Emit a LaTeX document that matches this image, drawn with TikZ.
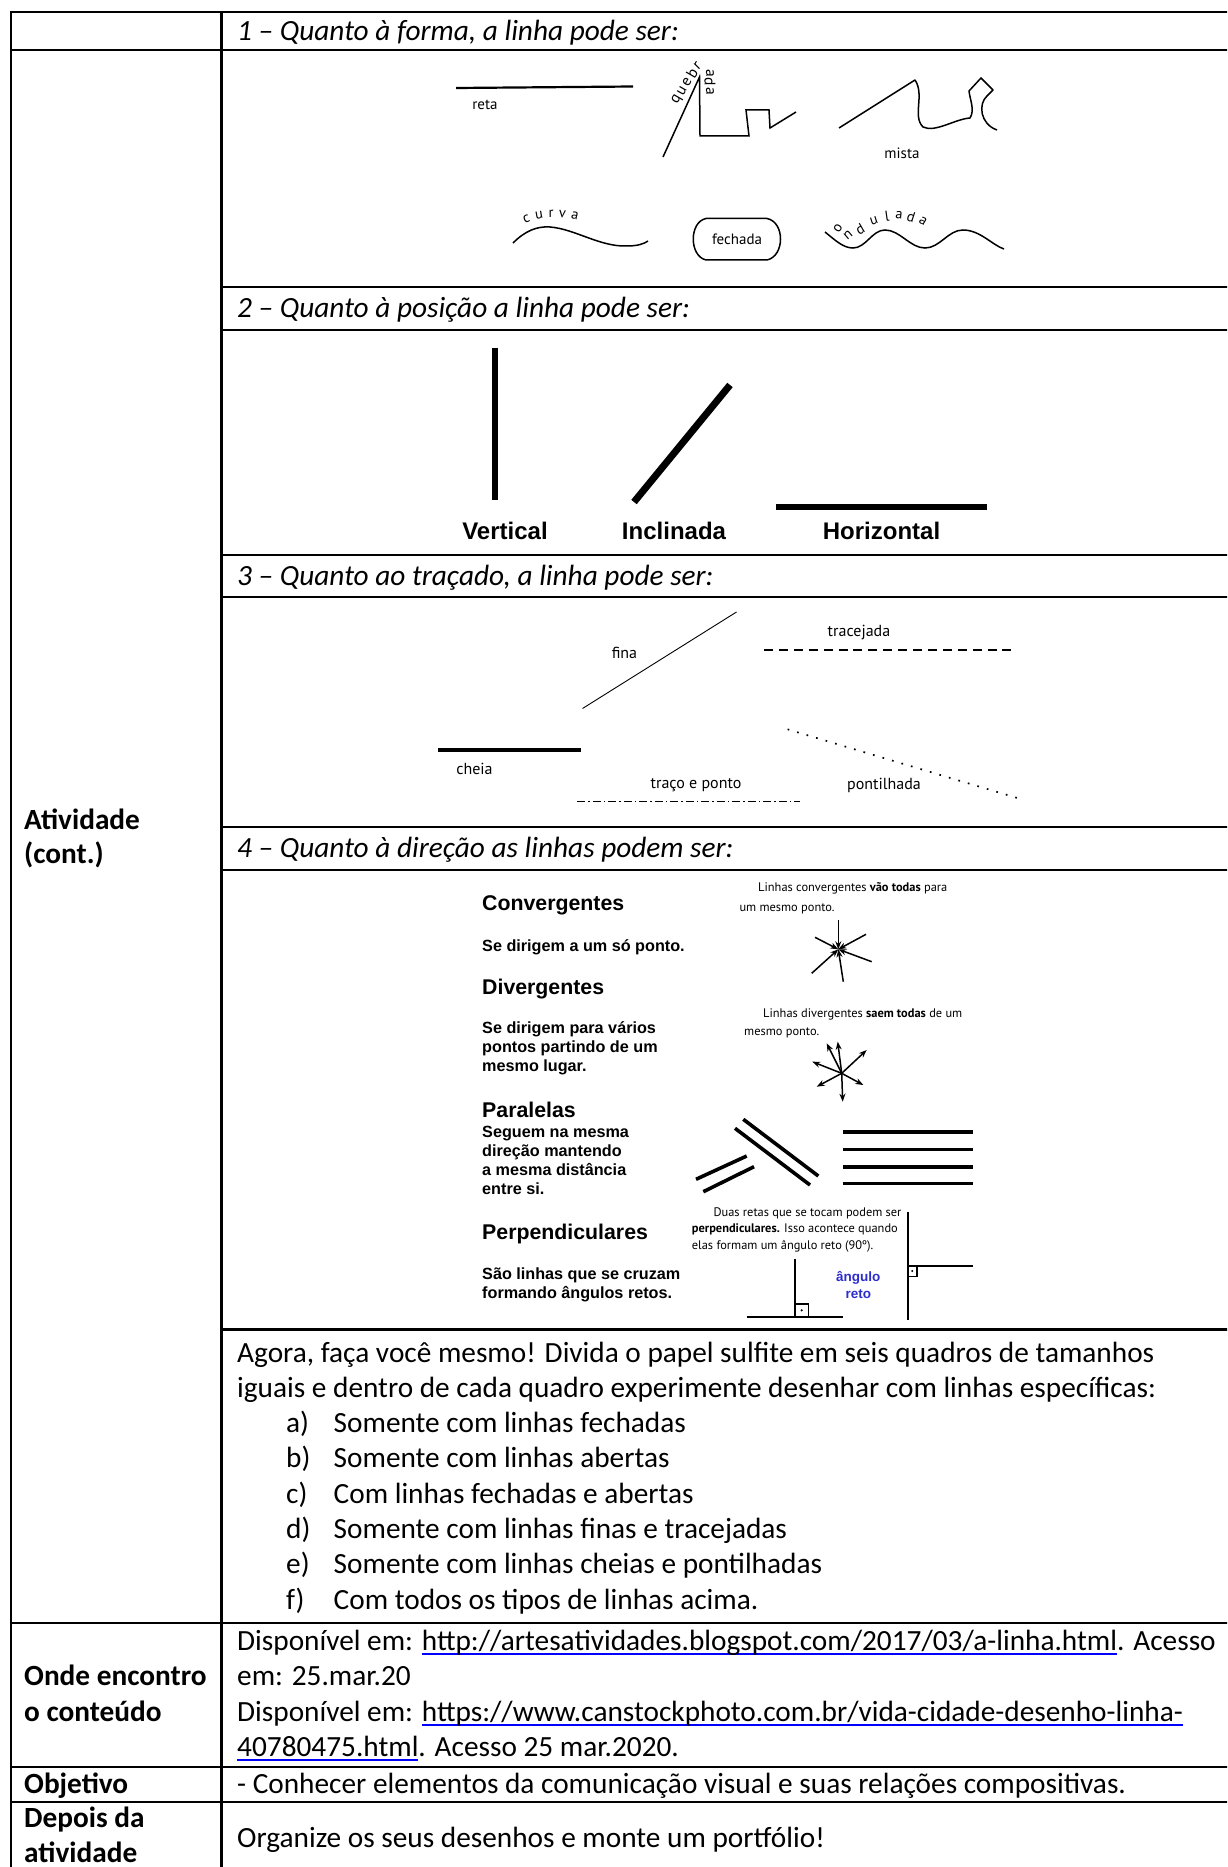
\documentclass[tikz,border=0pt]{standalone}
\usepackage{fontspec}
\setmainfont{Carlito}
\newfontfamily\arialf{Liberation Sans}
\newfontfamily\myriad{PT Sans}
\usetikzlibrary{arrows.meta}
\definecolor{linkblue}{RGB}{0,0,255}
\definecolor{angblue}{RGB}{45,45,205}
\newsavebox\lnkbox
\newcommand{\lnk}[1]{\sbox\lnkbox{#1}\textcolor{linkblue}{\rlap{\rule[-4.5pt]{\wd\lnkbox}{1.6pt}}\usebox\lnkbox}}
\begin{document}
\begin{tikzpicture}[x=1pt,y=-1pt,
  tbl/.style={line width=2.4pt},
  txt/.style={anchor=base west, inner sep=0pt, font=\fontsize{29.3}{35.3}\selectfont},
  txtb/.style={anchor=base west, inner sep=0pt, font=\fontsize{29.3}{35.3}\selectfont\bfseries},
  txti/.style={anchor=base west, inner sep=0pt, font=\fontsize{29.3}{35.3}\selectfont\itshape},
  lbl/.style={inner sep=0pt, font=\myriad\fontsize{15}{17}\selectfont},
  lblq/.style={inner sep=0pt, font=\myriad\fontsize{15.5}{17}\selectfont},
  lblt/.style={inner sep=0pt, font=\myriad\fontsize{16}{18}\selectfont},
  lblc/.style={inner sep=0pt, font=\myriad\fontsize{14.5}{16}\selectfont},
  poslbl/.style={anchor=base, inner sep=0pt, font=\arialf\bfseries\fontsize{24}{28}\selectfont},
  dirh/.style={anchor=base west, inner sep=0pt, font=\arialf\bfseries\fontsize{21.3}{24}\selectfont},
  dirt/.style={anchor=base west, inner sep=0pt, font=\arialf\bfseries\fontsize{16.2}{19}\selectfont},
  smtxt/.style={anchor=base west, inner sep=0pt, font=\myriad\fontsize{12.4}{14}\selectfont},
  angtxt/.style={inner sep=0pt, text=angblue, font=\arialf\bfseries\fontsize{13.5}{15}\selectfont},
  fineln/.style={line width=1.5pt, line join=miter},
  arr/.style={line width=1.5pt, -{Stealth[length=8pt,width=6pt]}},
  par/.style={line width=3.6pt},
  perp/.style={line width=2.2pt}
]
\useasboundingbox (0,0) rectangle (1227,1867);
\clip (0,0) rectangle (1227,1867);
\fill[white] (0,0) rectangle (1227,1867);

% ---------- table grid ----------
\draw[tbl] (10.7,12) -- (1240,12);
\draw[tbl] (10.7,50) -- (1240,50);
\foreach \yy in {287,330,555,597,827,870,1329.5}
  \draw[tbl] (221.5,\yy) -- (1240,\yy);
\foreach \yy in {1623,1767,1802}
  \draw[tbl] (10.7,\yy) -- (1240,\yy);
\draw[tbl] (10.7,10.8) -- (10.7,1880);
\draw[tbl] (221.5,10.8) -- (221.5,1880);

% ---------- headers ----------
\node[txti] (h1) at (237,41) {1 – Quanto à forma, a linha pode ser:};
\node[txti] (h2) at (237,317) {2 – Quanto à posição a linha pode ser:};
\node[txti] (h3) at (237,585) {3 – Quanto ao traçado, a linha pode ser:};
\node[txti] (h4) at (237,857) {4 – Quanto à direção as linhas podem ser:};

% ---------- left column ----------
\node[txtb] (la1) at (24,829) {Atividade};
\node[txtb] (la2) at (24,863.5) {(cont.)};
\node[txtb] (lo1) at (24,1685.5) {Onde encontro};
\node[txtb] (lo2) at (24,1721) {o conteúdo};
\node[txtb] (lob) at (24,1793) {Objetivo};
\node[txtb] (ld1) at (24,1827) {Depois da};
\node[txtb] (ld2) at (24,1862.5) {atividade};

% ---------- image 1: forma ----------
\draw[line width=2.2pt] (456,88) -- (633,86.5);
\node[lbl] (reta) at (485,105) {reta};

\draw[fineln] (663,157) -- (699.5,77) -- (700,136) -- (749,136) -- (746,110) -- (769,110) -- (770,128) -- (796,112);
\node[lblq, rotate=60] (q1) at (677,100) {q};
\node[lblq, rotate=60] (q2) at (682,91.2) {u};
\node[lblq, rotate=60] (q3) at (687,82.5) {e};
\node[lblq, rotate=60] (q4) at (692,73.7) {b};
\node[lblq, rotate=45] (q5) at (697.5,65.5) {r};
\node[lblq, rotate=-90] (a1) at (710,73) {a};
\node[lblq, rotate=-90] (a2) at (710,82) {d};
\node[lblq, rotate=-90] (a3) at (710,91) {a};

\draw[fineln, line join=round] (839,128) -- (915,80) .. controls (925,95) and (912,116) .. (923,127)
  .. controls (935,133) and (955,119) .. (970,118) .. controls (975,110) and (970,100) .. (969,91)
  -- (981,78) -- (993,90) -- (987,96) .. controls (978,104) and (980,124) .. (997,130);
\node[lbl] (mista) at (902,153) {mista};

\draw[fineln] (513,243) .. controls (525,231) and (537,226) .. (550,227) .. controls (575,229) and (600,247) .. (627,246) .. controls (637,246) and (644,244) .. (648,241);
\node[lblc, rotate=20] (c1) at (526.5,219) {c};
\node[lblc, rotate=10] (c2) at (539,215.5) {u};
\node[lblc, rotate=0] (c3) at (551,214) {r};
\node[lblc, rotate=-5] (c4) at (562.5,214) {v};
\node[lblc, rotate=-12] (c5) at (575,216) {a};

\draw[fineln] (706,218.5) -- (767,218.5) .. controls (785,222) and (785,256) .. (767,260) -- (706,260) .. controls (689,256) and (689,222) .. (706,218.5) -- cycle;
\node[lbl] (fech) at (737,239) {fechada};

\draw[fineln] (825,232) .. controls (835,240) and (843,248) .. (853,248) .. controls (866,248) and (872,230) .. (885,230)
  .. controls (900,230) and (910,248) .. (925,248) .. controls (940,248) and (948,230) .. (963,230)
  .. controls (980,230) and (992,245) .. (1004,249);
\node[lblc, rotate=60] (o1) at (838,228) {o};
\node[lblc, rotate=40] (o2) at (848,235) {n};
\node[lblc, rotate=30] (o3) at (860,229) {d};
\node[lblc, rotate=18] (o4) at (874,221) {u};
\node[lblc, rotate=8] (o5) at (887,216.5) {l};
\node[lblc, rotate=-5] (o6) at (899,215.5) {a};
\node[lblc, rotate=-18] (o7) at (911,217) {d};
\node[lblc, rotate=-30] (o8) at (923,221) {a};

% ---------- image 2: posicao ----------
\draw[line width=6pt] (494.5,347.5) -- (494.5,500);
\draw[line width=7pt] (634,502) -- (730,385);
\draw[line width=6.5pt] (776,507) -- (987,507);
\node[poslbl] (pv) at (505,539) {Vertical};
\node[poslbl] (pi) at (674,539) {Inclinada};
\node[poslbl] (ph) at (881.5,539) {Horizontal};

% ---------- image 3: tracado ----------
\draw[line width=0.9pt] (582.5,708.5) -- (736.5,612);
\node[lblt] (fina) at (624.5,653) {fina};
\draw[line width=2pt, dash pattern=on 9pt off 5.9pt] (764,650) -- (1016,650);
\node[lblt] (trac) at (859,633) {tracejada};
\draw[line width=4pt] (438,750) -- (581,750);
\node[lblt] (cheia) at (474.5,768.5) {cheia};
\draw[line width=1.3pt, dash pattern=on 8pt off 3pt on 1.5pt off 3pt] (577.4,801.7) -- (800,801.7);
\node[lblt] (tp) at (696,785) {traço e ponto};
\draw[line width=1.7pt, dash pattern=on 1.7pt off 8.2pt] (787.6,729.3) -- (1024,800);
\node[lblt] (pont) at (884,785) {pontilhada};

% ---------- image 4: direcao ----------
\node[dirh] (cvh) at (482,910) {Convergentes};
\node[dirt] (cvt) at (482,951) {Se dirigem a um só ponto.};
\node[dirh] (dvh) at (482,994) {Divergentes};
\node[dirt] (dv1) at (482,1033) {Se dirigem para vários};
\node[dirt] (dv2) at (482,1052) {pontos partindo de um};
\node[dirt] (dv3) at (482,1071) {mesmo lugar.};
\node[dirh] (pah) at (482,1117) {Paralelas};
\node[dirt] (pa1) at (482,1137) {Seguem na mesma};
\node[dirt] (pa2) at (482,1156) {direção mantendo};
\node[dirt] (pa3) at (482,1175) {a mesma distância};
\node[dirt] (pa4) at (482,1194) {entre si.};
\node[dirh] (peh) at (482,1239) {Perpendiculares};
\node[dirt] (pe1) at (482,1279) {São linhas que se cruzam};
\node[dirt] (pe2) at (482,1298) {formando ângulos retos.};

\node[smtxt] (cs1) at (758,891.5) {Linhas convergentes \textbf{vão todas} para};
\node[smtxt] (cs2) at (739.3,911) {um mesmo ponto.};
\node[smtxt] (ds1) at (763,1017.5) {Linhas divergentes \textbf{saem todas} de um};
\node[smtxt] (ds2) at (744,1035.5) {mesmo ponto.};
\node[smtxt] (ps1) at (713.3,1216) {Duas retas que se tocam podem ser};
\node[smtxt] (ps2) at (691.7,1232.5) {\textbf{perpendiculares.} Isso acontece quando};
\node[smtxt] (ps3) at (691.7,1249) {elas formam um ângulo reto (90º).};

% convergent star
\coordinate (cc) at (838.3,949.3);
\foreach \px/\py in {838.3/920, 866/934.3, 871.7/961.7, 843.3/981.7, 811.7/973.3, 815/937.3}
  \draw[arr] (\px,\py) -- (cc);
% divergent star
\coordinate (dc) at (841.7,1073.3);
\foreach \px/\py in {826.7/1043.3, 837.7/1041.7, 866.7/1050, 812.3/1061.7, 816.7/1086.7, 863.3/1085, 842.7/1101.7}
  \draw[arr] (dc) -- (\px,\py);

% parallels
\draw[par] (735,1128.3) -- (810,1185);
\draw[par] (743.3,1119.3) -- (818.3,1176);
\draw[par] (696,1179.3) -- (746.7,1156);
\draw[par] (703.3,1191.7) -- (754,1166.7);
\foreach \yy in {1131.7,1149.3,1166.7,1183.3}
  \draw[par] (843.3,\yy) -- (973.3,\yy);

% perpendiculars
\draw[perp] (795,1259.3) -- (795,1316.7);
\draw[perp] (746.7,1316.7) -- (843.3,1316.7);
\draw[line width=1.6pt] (795,1304) -- (808.3,1304) -- (808.3,1316.7);
\fill (801.7,1310.3) circle (1.2pt);
\draw[perp] (907.7,1211.7) -- (907.7,1320);
\draw[perp] (907.7,1265.7) -- (972.7,1265.7);
\draw[line width=1.6pt] (907.7,1276.5) -- (917,1276.5) -- (917,1265.7);
\fill (912.3,1271) circle (1.1pt);
\node[angtxt] (ang1) at (858.3,1278.3) {ângulo};
\node[angtxt] (ang2) at (858.3,1294) {reto};

% ---------- activity text ----------
\node[txt] (ag1) at (237,1362) {Agora, faça você mesmo! Divida o papel sulfite em seis quadros de tamanhos};
\node[txt] (ag2) at (237,1397.3) {iguais e dentro de cada quadro experimente desenhar com linhas específicas:};
\node[txt] (la) at (286,1432.6) {a)};
\node[txt] (ia) at (333.5,1432.6) {Somente com linhas fechadas};
\node[txt] (lb) at (286,1467.9) {b)};
\node[txt] (ib) at (333.5,1467.9) {Somente com linhas abertas};
\node[txt] (lc) at (286,1503.2) {c)};
\node[txt] (ic) at (333.5,1503.2) {Com linhas fechadas e abertas};
\node[txt] (ld) at (286,1538.5) {d)};
\node[txt] (id) at (333.5,1538.5) {Somente com linhas finas e tracejadas};
\node[txt] (le) at (286,1573.8) {e)};
\node[txt] (ie) at (333.5,1573.8) {Somente com linhas cheias e pontilhadas};
\node[txt] (lf) at (286,1609.1) {f)};
\node[txt] (iff) at (333.5,1609.1) {Com todos os tipos de linhas acima.};

% ---------- sources, objective, after ----------
\node[txt] (on1) at (237,1650) {Disponível em: \lnk{http://artesatividades.blogspot.com/2017/03/a-linha.html}. Acesso};
\node[txt] (on2) at (237,1685.5) {em: 25.mar.20};
\node[txt] (on3) at (237,1721) {Disponível em: \lnk{https://www.canstockphoto.com.br/vida-cidade-desenho-linha-}};
\node[txt] (on4) at (237,1756.5) {\lnk{40780475.html}. Acesso 25 mar.2020.};
\node[txt] (obj) at (237,1793) {- Conhecer elementos da comunicação visual e suas relações compositivas.};
\node[txt] (dep) at (237,1847.5) {Organize os seus desenhos e monte um portfólio!};
\end{tikzpicture}
\end{document}
